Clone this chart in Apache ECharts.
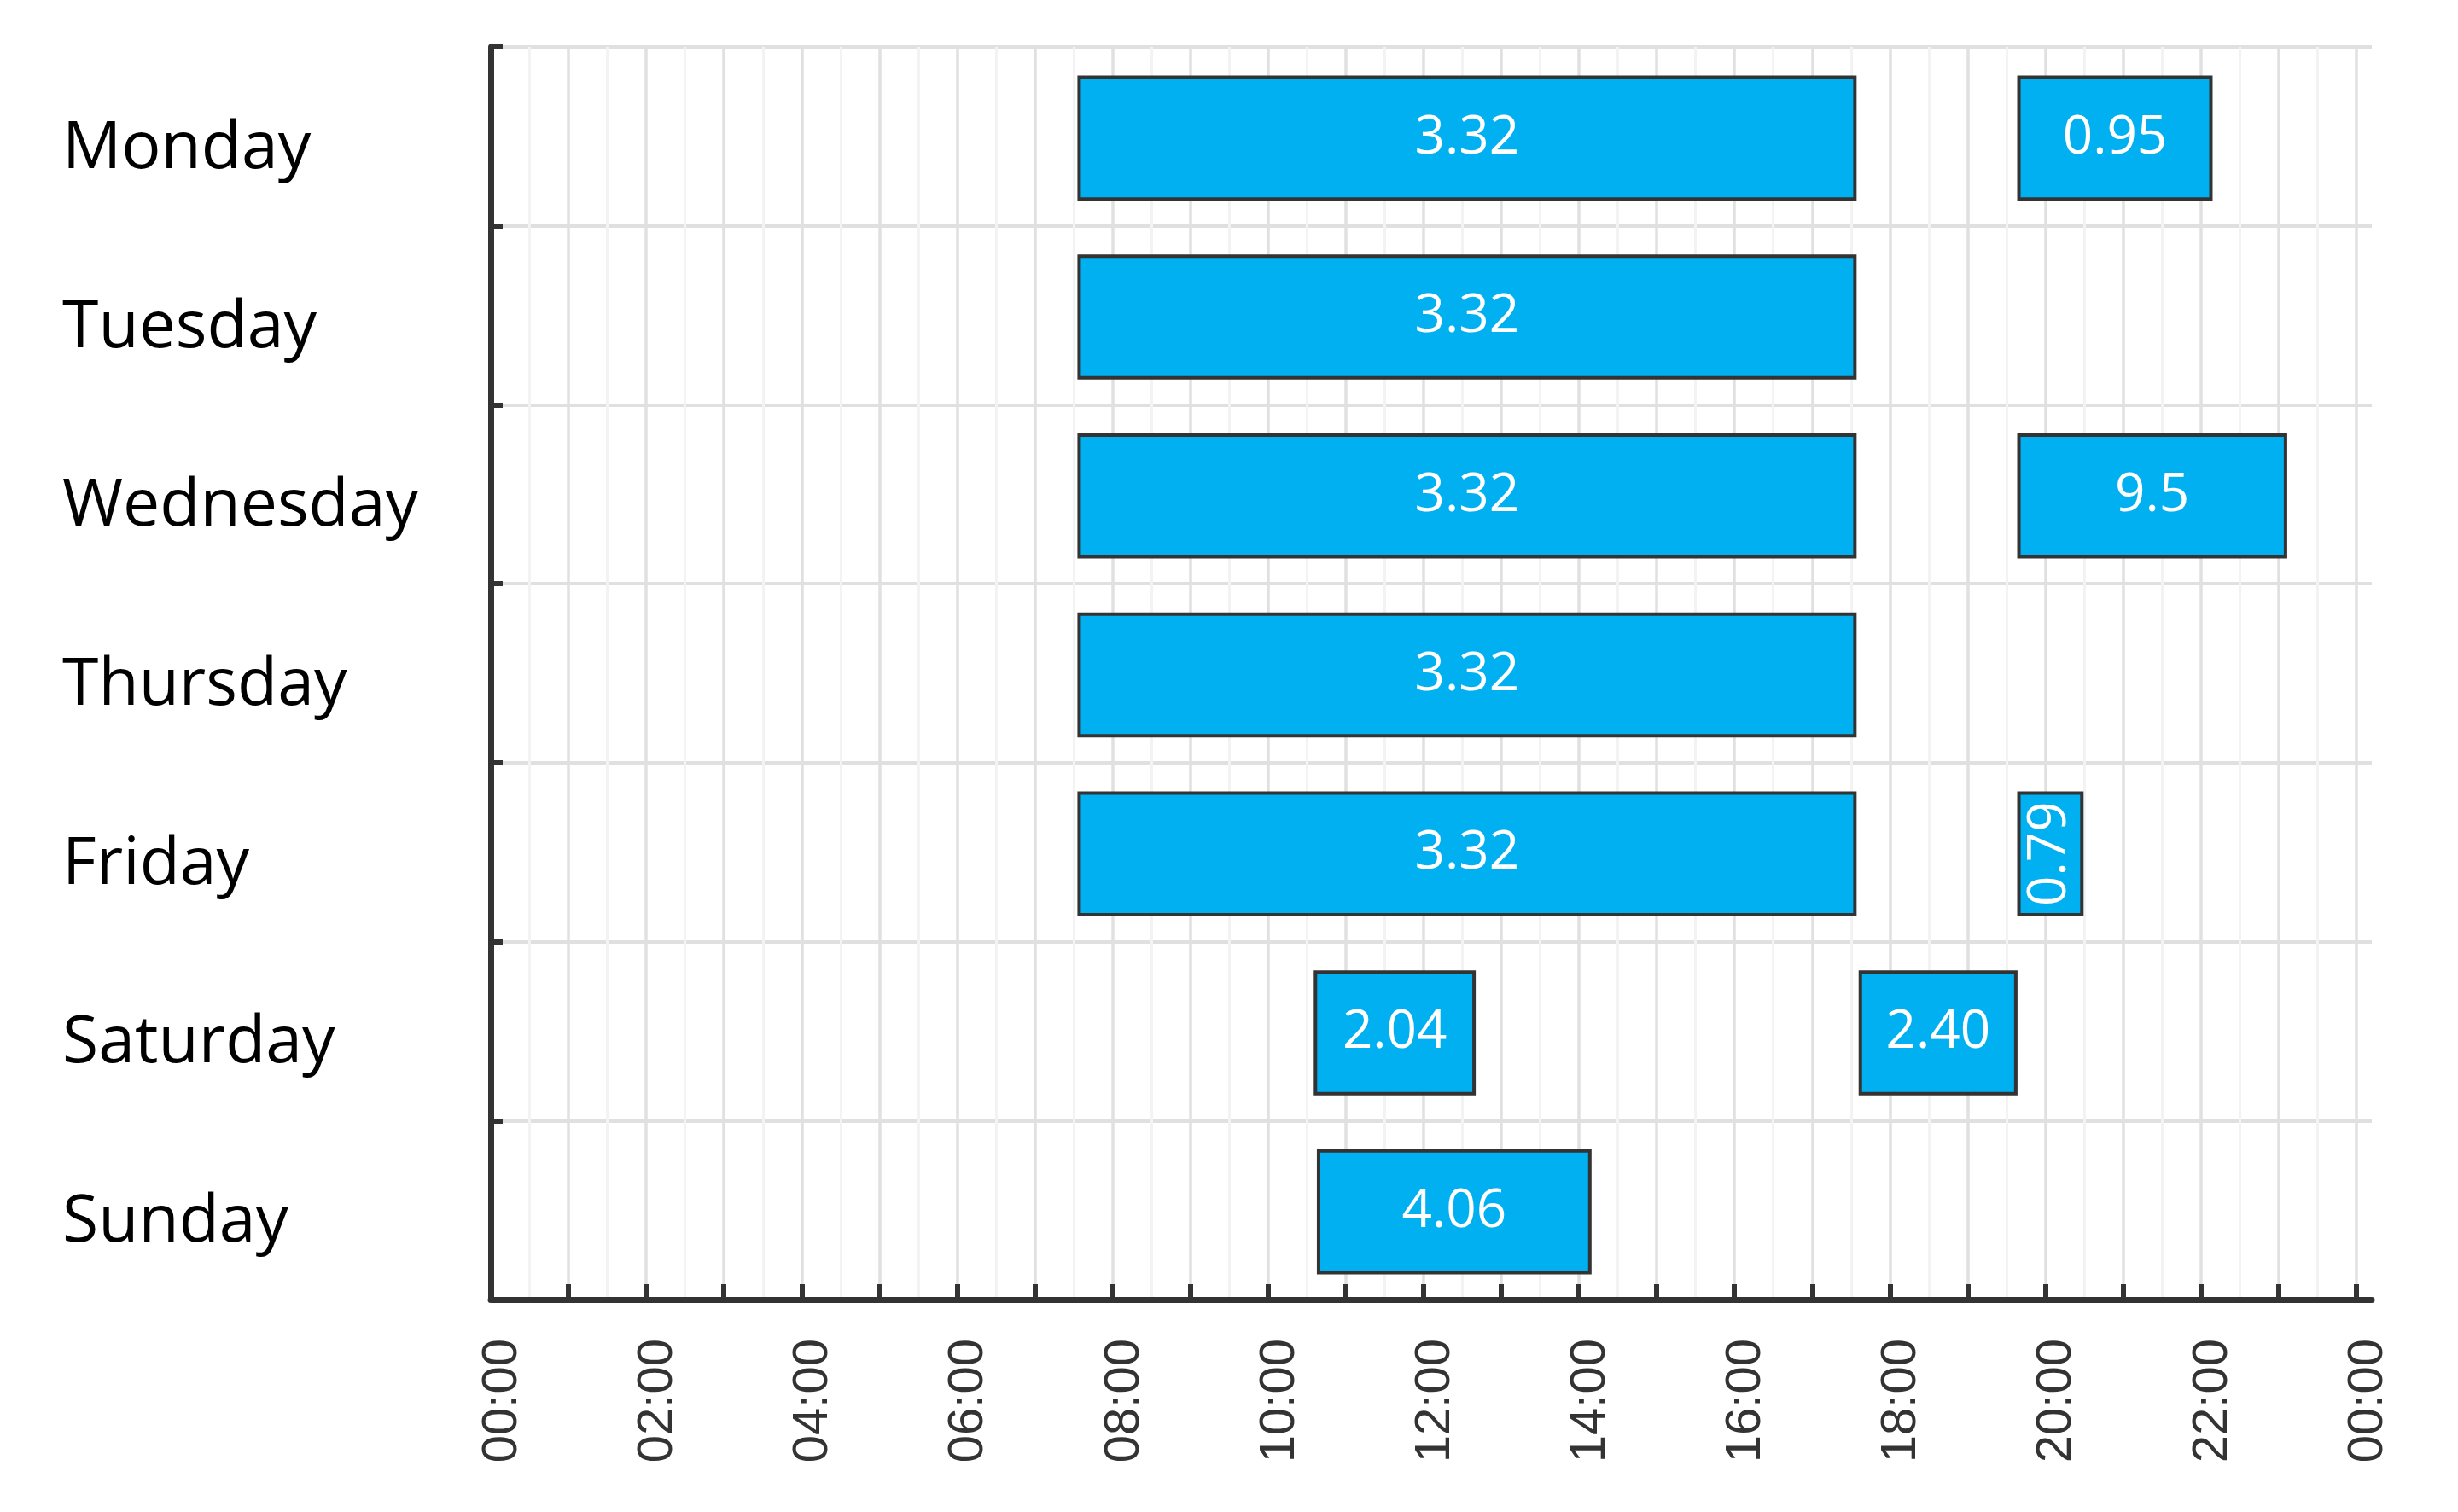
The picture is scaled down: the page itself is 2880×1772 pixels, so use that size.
<!DOCTYPE html>
<html>
<head>
<meta charset="utf-8">
<script src="https://cdn.jsdelivr.net/npm/echarts@6/dist/echarts.min.js"></script>
<style>
  html, body { margin: 0; padding: 0; background: #fff; }
  #chart { width: 2880px; height: 1772px; }
</style>
</head>
<body>
<div id="chart"></div>
<script>
// ---- data ----
const days = ['Monday', 'Tuesday', 'Wednesday', 'Thursday', 'Friday', 'Saturday', 'Sunday'];
const barDay = [0, 0, 1, 2, 2, 3, 4, 4, 5, 5, 6];
const barStart = [7.57, 19.66, 7.57, 7.57, 19.66, 7.57, 7.57, 19.66, 10.61, 17.62, 10.65];
const barEnd = [17.55, 22.13, 17.55, 17.55, 23.09, 17.55, 17.55, 20.47, 12.65, 19.62, 14.14];
const barLabels = ['3.32', '0.95', '3.32', '3.32', '9.5', '3.32', '3.32', '0.79', '2.04', '2.40', '4.06'];
const hourTicks = [0,1,2,3,4,5,6,7,8,9,10,11,12,13,14,15,16,17,18,19,20,21,22,23,24];
const halfHourTicks = [0.5,1.5,2.5,3.5,4.5,5.5,6.5,7.5,8.5,9.5,10.5,11.5,12.5,13.5,14.5,15.5,16.5,17.5,18.5,19.5,20.5,21.5,22.5,23.5];
const labelHours = [0,2,4,6,8,10,12,14,16,18,20,22,24];
const tickLabels = ['00:00','02:00','04:00','06:00','08:00','10:00','12:00','14:00','16:00','18:00','20:00','22:00','00:00'];
const axisMin = 0;
const axisMax = 24.2;

const seriesData = barDay.map((d, i) => [d, barStart[i], barEnd[i]]);

const chart = echarts.init(document.getElementById('chart'), null, { renderer: 'canvas' });

function renderItem(params, api) {
  const cat = api.value(0);
  const s = api.value(1);
  const e = api.value(2);
  const p0 = api.coord([s, cat]);
  const p1 = api.coord([e, cat]);
  const h = api.size([0, 1])[1] * 0.68;
  const rect = { x: p0[0], y: p0[1] - h / 2 + 2, width: p1[0] - p0[0], height: h };
  const narrow = rect.width < 130;
  return {
    type: 'rect',
    shape: rect,
    style: { fill: '#00B0F0', stroke: '#333333', lineWidth: 4 },
    textContent: {
      style: {
        text: barLabels[params.dataIndex],
        fill: '#ffffff',
        fontSize: 62,
        fontFamily: 'Open Sans'
      }
    },
    textConfig: { position: 'inside', rotation: narrow ? Math.PI / 2 : 0 }
  };
}

const option = {
  backgroundColor: '#ffffff',
  animation: false,
  grid: { left: 575, right: 101, top: 55, bottom: 249, containLabel: false, outerBoundsMode: 'none' },
  xAxis: [
    {
      type: 'value',
      min: axisMin,
      max: axisMax,
      interval: 1,
      position: 'bottom',
      axisLine: { show: true, lineStyle: { color: '#333333', width: 7 } },
      axisTick: { show: true, inside: true, length: 18, customValues: hourTicks, lineStyle: { color: '#333333', width: 6 } },
      axisLabel: {
        show: true,
        customValues: labelHours,
        formatter: function (v) { return tickLabels[labelHours.indexOf(Math.round(v))] || ''; },
        rotate: 90,
        margin: 46,
        verticalAlign: 'top',
        lineHeight: 28,
        fontSize: 58,
        fontFamily: 'Liberation Sans',
        color: '#333333'
      },
      splitLine: { show: true, lineStyle: { color: '#e0e0e0', width: 3.5 } }
    },
    {
      type: 'value',
      min: axisMin,
      max: axisMax,
      interval: 1,
      position: 'top',
      axisLine: { show: false },
      axisTick: { show: false, customValues: halfHourTicks },
      axisLabel: { show: false },
      splitLine: { show: true, lineStyle: { color: '#f3f3f3', width: 3 } }
    }
  ],
  yAxis: {
    type: 'category',
    data: days,
    inverse: true,
    boundaryGap: true,
    axisLine: { show: true, lineStyle: { color: '#333333', width: 7 } },
    axisTick: { show: true, inside: true, length: 14, lineStyle: { color: '#333333', width: 6 } },
    axisLabel: {
      align: 'left',
      verticalAlign: 'top',
      lineHeight: 30,
      margin: 502,
      fontSize: 77,
      fontFamily: 'Open Sans',
      color: '#000000'
    },
    splitLine: { show: true, lineStyle: { color: '#e0e0e0', width: 4 } }
  },
  series: [
    {
      type: 'custom',
      renderItem: renderItem,
      encode: { x: [1, 2], y: 0 },
      data: seriesData,
      z: 10
    }
  ]
};

chart.setOption(option);
</script>
</body>
</html>
